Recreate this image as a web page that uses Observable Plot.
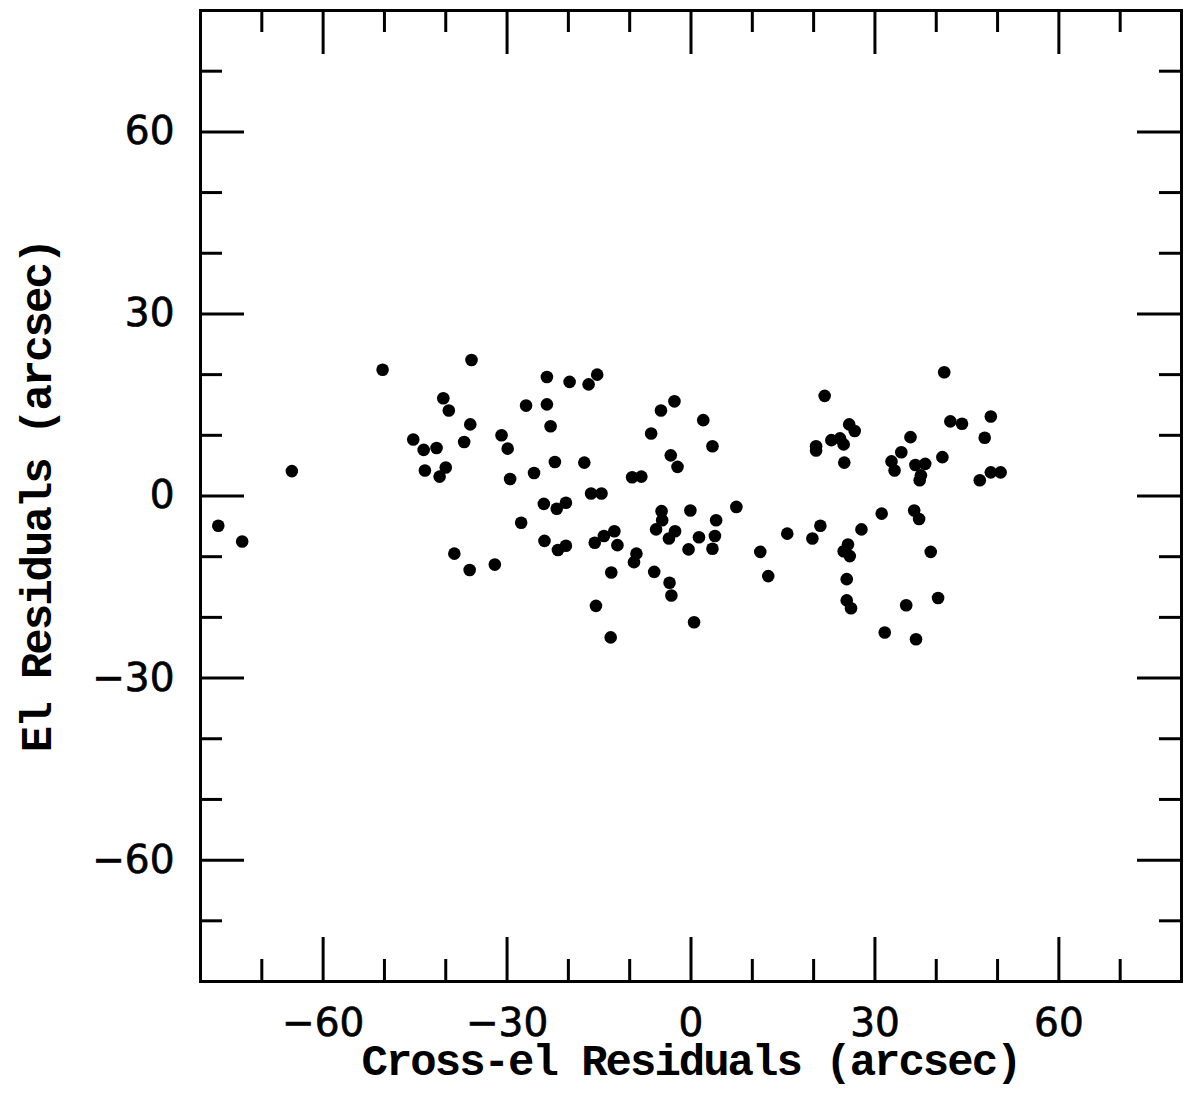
<!DOCTYPE html>
<html><head><meta charset="utf-8">
<script src="https://cdn.jsdelivr.net/npm/d3@7"></script>
<script src="https://cdn.jsdelivr.net/npm/@observablehq/plot@0.6"></script>
<style>body{margin:0;background:#fff}</style>
</head><body><div id="chart"></div>
<script>
const crossEl = [
  -50.3, -35.8, -40.4, -39.5, -36.0, -45.3, -43.6, -41.5, -37.0, -65.1, -40.0, -41.0, -43.4, -77.1, -73.2, -38.6, -36.1,
  -23.5, -19.8, -15.3, -16.7, -26.9, -23.5, -22.9, -30.9, -29.9, -29.5, -25.6, -22.2, -17.4, -24.0, -21.9, -20.4, -16.3, -14.6,
  -9.6, -8.1, -6.5, -4.9, -2.7, 2.0, 3.5, -3.3, -2.2, 7.4, -0.1, -4.8, -4.7, -5.7, -2.6, -3.6, 1.3, -0.4, 4.1, 3.9, 3.5,
  -27.7, -23.9, -21.7, -20.4, -15.7, -14.2, -12.5, -12.0, -8.9, -9.3, -6.0, -3.5, -3.2, -13.0, -15.5, -13.1, 0.5, -32.0,
  41.3, 21.8, 25.8, 26.7, 22.9, 24.3, 24.9, 20.4, 20.4, 25.0, 35.8, 34.3, 32.7, 33.2, 36.6, 38.2, 37.5, 37.3,
  41.0, 42.3, 44.2, 48.9, 47.9, 47.1, 48.9, 50.5, 31.1, 36.4, 37.2, 27.8, 21.1, 19.8, 15.7, 11.3, 12.6,
  25.6, 24.9, 25.9, 39.1, 25.4, 25.4, 26.1, 35.1, 40.3, 31.6, 36.7
];
const elRes = [
  20.8, 22.4, 16.1, 14.1, 11.8, 9.3, 7.6, 7.9, 8.9, 4.1, 4.7, 3.2, 4.2, -4.9, -7.5, -9.5, -12.2,
  19.6, 18.8, 20.0, 18.4, 14.9, 15.1, 11.5, 10.0, 7.8, 2.8, 3.8, 5.6, 5.5, -1.3, -2.1, -1.1, 0.4, 0.4,
  3.1, 3.2, 10.3, 14.1, 15.6, 12.5, 8.2, 6.7, 4.8, -1.8, -2.4, -2.5, -4.0, -5.5, -5.8, -7.0, -6.8, -8.8, -4.0, -6.6, -8.7,
  -4.4, -7.4, -8.9, -8.2, -7.7, -6.6, -5.8, -8.1, -9.5, -10.9, -12.5, -14.3, -16.4, -12.6, -18.1, -23.3, -20.8, -11.3,
  20.4, 16.5, 11.8, 10.7, 9.2, 9.5, 8.5, 8.2, 7.5, 5.5, 9.7, 7.2, 5.7, 4.2, 5.1, 5.3, 3.4, 2.6,
  6.4, 12.3, 11.9, 13.1, 9.6, 2.6, 3.9, 3.9, -2.9, -2.4, -3.8, -5.5, -4.9, -7.0, -6.2, -9.2, -13.2,
  -8.0, -9.1, -9.9, -9.2, -13.7, -17.2, -18.5, -18.0, -16.8, -22.5, -23.6
];
const majorTicks = [-60, -30, 0, 30, 60];
const minorTicks = [-70, -50, -40, -20, -10, 10, 20, 40, 50, 70];
const xTitle = "Cross-el Residuals (arcsec)";
const yTitle = "El Residuals (arcsec)";

const W = 1184, H = 1093, mL = 200, mR = 3, mT = 10, mB = 112;
const iW = W - mL - mR, iH = H - mT - mB;
const majorLen = 44, minorLen = 22, tw = 3;
const points = crossEl.map((x, i) => ({x, y: elRes[i]}));
const tickFont = {fontFamily: "DejaVu Sans", fontSize: 39};
const titleFont = {fontFamily: "Liberation Mono", fontSize: 44, fontWeight: "bold"};

const rulesX = (arr, len) => [
  Plot.ruleX(arr, {x: d => d, insetTop: iH - len, stroke: "black", strokeWidth: tw}),
  Plot.ruleX(arr, {x: d => d, insetBottom: iH - len, stroke: "black", strokeWidth: tw})
];
const rulesY = (arr, len) => [
  Plot.ruleY(arr, {y: d => d, insetRight: iW - len, stroke: "black", strokeWidth: tw}),
  Plot.ruleY(arr, {y: d => d, insetLeft: iW - len, stroke: "black", strokeWidth: tw})
];

const chart = Plot.plot({
  width: W, height: H,
  marginLeft: mL, marginRight: mR, marginTop: mT, marginBottom: mB,
  x: {domain: [-80, 80]},
  y: {domain: [-80, 80]},
  style: {background: "white", color: "black"},
  marks: [
    ...rulesX(minorTicks, minorLen), ...rulesX(majorTicks, majorLen),
    ...rulesY(minorTicks, minorLen), ...rulesY(majorTicks, majorLen),
    Plot.frame({stroke: "black", strokeWidth: tw}),
    Plot.axisX({ticks: majorTicks, tickSize: 0, tickPadding: 27, label: null, ...tickFont}),
    Plot.axisY({ticks: majorTicks, tickSize: 0, tickPadding: 26, label: null, ...tickFont}),
    Plot.dot(points, {x: "x", y: "y", r: 6.3, fill: "black", stroke: "none"}),
    Plot.text([xTitle], {text: d => d, frameAnchor: "bottom", textAnchor: "middle", dy: 79, lineAnchor: "middle", ...titleFont}),
    Plot.text([yTitle], {text: d => d, frameAnchor: "left", textAnchor: "middle", rotate: -90, dx: -164, lineAnchor: "middle", ...titleFont})
  ]
});
const svg = d3.select(chart);
svg.selectAll('g[aria-label="text"] text').style("letter-spacing", "-2px");
svg.selectAll('g[aria-label="x-axis tick label"] text, g[aria-label="y-axis tick label"] text')
  .style("stroke", "black").style("stroke-width", "0.7px");
document.getElementById("chart").appendChild(chart);
</script>
</body></html>
